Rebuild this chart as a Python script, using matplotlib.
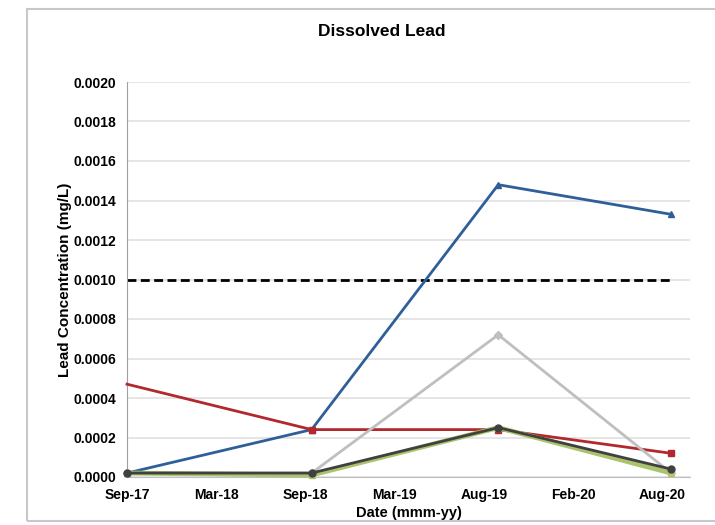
import datetime as dt
import matplotlib
matplotlib.use("Agg")
import matplotlib.pyplot as plt
import matplotlib.dates as mdates
from matplotlib.patches import Rectangle

# sampling dates and concentrations (mg/L)
sample_dates = [dt.date(2017, 9, 25), dt.date(2018, 9, 22),
                dt.date(2019, 9, 23), dt.date(2020, 8, 27)]
blue_vals = [0.00002, 0.00024, 0.00148, 0.00133]
red_vals = [0.00047, 0.00024, 0.00024, 0.00012]
olive_vals = [0.00002, 0.00001, 0.00025, 0.00002]
lgray_vals = [0.00002, 0.00002, 0.00072, 0.00002]
dark_vals = [0.00002, 0.00002, 0.00025, 0.00004]
guideline = 0.001

tick_start = dt.date(2017, 9, 25)
tick_step_days = 175
n_ticks = 7

plt.rcParams['font.family'] = ['Liberation Sans', 'DejaVu Sans']

fig = plt.figure(figsize=(7.15, 5.25), dpi=100)
ax = fig.add_axes([127 / 715, 1 - 477 / 525, (690 - 127) / 715, (477 - 82) / 525])

# gray chart frame
fig.patches.append(Rectangle((27 / 715, 1 - 521 / 525), 1.0, (521 - 9) / 525,
                             transform=fig.transFigure, fill=False,
                             edgecolor='#c8c8c8', linewidth=1.5))

ax.plot([sample_dates[0], sample_dates[-1]], [guideline, guideline],
        color='black', linestyle=(0, (3.2, 1.6)), linewidth=2, zorder=2)
ax.plot(sample_dates, blue_vals, color='#2f5f98', linewidth=2,
        marker='^', markersize=5, zorder=3, clip_on=False)
ax.plot(sample_dates, red_vals, color='#b3282d', linewidth=2,
        marker='s', markersize=5, markevery=[1, 2, 3], zorder=3, clip_on=False)
ax.plot(sample_dates, lgray_vals, color='#bfbfbf', linewidth=2,
        marker='D', markersize=4, zorder=4, clip_on=False)
ax.plot(sample_dates, olive_vals, color='#a9c46c', linewidth=3.5,
        marker='^', markersize=5, markerfacecolor='#c8c84a', zorder=4, clip_on=False)
ax.plot(sample_dates, dark_vals, color='#404040', linewidth=2,
        marker='o', markersize=5, zorder=5, clip_on=False)

ticks = [tick_start + dt.timedelta(days=tick_step_days * k) for k in range(n_ticks)]
ax.set_xticks(ticks)
ax.xaxis.set_major_formatter(mdates.DateFormatter('%b-%y'))
ax.set_xlim(sample_dates[0], sample_dates[0] + dt.timedelta(days=1104))

ax.set_ylim(0, 0.002)
ax.set_yticks([i * 0.0002 for i in range(11)])
ax.yaxis.set_major_formatter(matplotlib.ticker.FormatStrFormatter('%.4f'))

ax.grid(axis='y', color='#e0e0e0', linewidth=1.2)
ax.set_axisbelow(True)
for side in ['top', 'right']:
    ax.spines[side].set_visible(False)
ax.spines['left'].set_color('#a0a0a0')
ax.spines['bottom'].set_color('#c0c0c0')
ax.tick_params(length=0, labelsize=10, pad=8)
for lab in ax.get_xticklabels() + ax.get_yticklabels():
    lab.set_fontweight('bold')

fig.text(382 / 715, 1 - 32 / 525, 'Dissolved Lead', fontsize=12.5,
         fontweight='bold', ha='center', va='center')
ax.set_ylabel('Lead Concentration (mg/L)', fontsize=11, fontweight='bold', labelpad=1)
ax.set_xlabel('Date (mmm-yy)', fontsize=10.5, fontweight='bold', labelpad=3)

fig.savefig('out.png', dpi=100)
